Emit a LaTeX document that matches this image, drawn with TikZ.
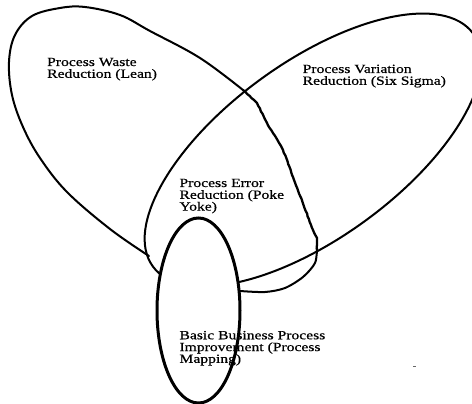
\documentclass[tikz,border=0pt]{standalone}
\usepackage{fontspec}
\setmainfont{Liberation Serif}[FakeStretch=1.25, FakeBold=0.6]
\usetikzlibrary{decorations.pathmorphing}
\tikzset{
  ovl/.style={line width=2pt, line join=round, line cap=round},
  wavyline/.style={line width=2.3pt, line join=round, line cap=round, decorate,
    decoration={random steps, segment length=3pt, amplitude=0.35pt}},
  smallovl/.style={line width=3pt},
  lbl/.style={anchor=north west, inner sep=0pt, align=left,
    font=\fontsize{12.5}{11.8}\selectfont, text=black},
}
\begin{document}
\begin{tikzpicture}[x=1pt,y=-1pt]
\path[use as bounding box] (0,0) rectangle (472,404);
% Lean shape: visible outer outline
\draw[ovl] plot[smooth, tension=0.6] coordinates {(149,256) (110,229) (67,192) (40,158) (23,127) (12,95) (9,62) (15,35) (32,16) (60,8) (85,7) (120,15) (150,31) (200,58) (243,90)};
% Six Sigma ellipse
\draw[ovl, rotate around={36:(313,150)}] (313,150) ellipse [x radius=198, y radius=88];
% jagged boundary of Lean shape inside Six Sigma
\draw[wavyline] (243,90) -- (257,103) -- (267,123) -- (283,150) -- (293,177) -- (313,230) -- (317,238) -- (317,250);
\draw[ovl] plot[smooth] coordinates {(317,248) (315,263) (303,277) (285,288) (265,292) (240,291)};
% Process mapping ellipse (white inside)
\fill[white] (198.5,310.5) ellipse [x radius=41.5, y radius=92.5];
% labels
\node[lbl] (lean) at (47,57.6) {Process Waste\\Reduction (Lean)};
\node[lbl] (sixsigma) at (302.5,64.5) {Process Variation\\Reduction (Six Sigma)};
\node[lbl] (pokeyoke) at (179.3,178.6) {Process Error\\Reduction (Poke\\Yoke)};
\node[lbl] (mapping) at (179.3,330.8) {Basic Business Process\\Improvement (Process\\Mapping)};
\draw[smallovl] (198.5,310.5) ellipse [x radius=41.5, y radius=92.5];
% stray dot
\fill[black!60] (413,365.5) rectangle (415.5,367);
\end{tikzpicture}
\end{document}
